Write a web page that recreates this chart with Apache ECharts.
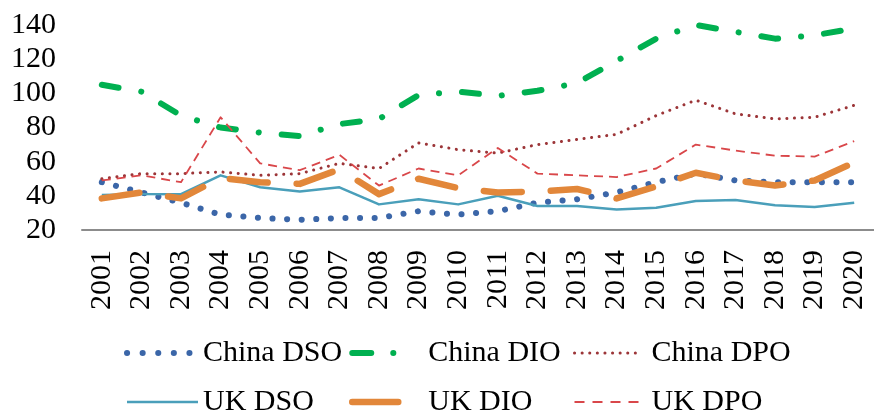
<!DOCTYPE html>
<html>
<head>
<meta charset="utf-8">
<script src="https://cdn.jsdelivr.net/npm/echarts@6/dist/echarts.min.js"></script>
<style>
html,body{margin:0;padding:0;background:#fff;}
#c{width:874px;height:414px;}
</style>
</head>
<body>
<div id="c"></div>
<script>
var years = ['2001','2002','2003','2004','2005','2006','2007','2008','2009','2010','2011','2012','2013','2014','2015','2016','2017','2018','2019','2020'];
var yTicks = {min: 20, max: 140, interval: 20};
var chinaDSO = [48, 42, 36, 29, 27, 26, 27, 27, 31, 29, 31, 36, 38, 42, 48, 53, 49, 48, 48, 48];
var chinaDIO = [105, 101, 87, 80, 77, 75, 82, 85, 99, 101, 98.5, 101.5, 106, 119, 132, 140, 136, 132, 134, 138];
var chinaDPO = [50, 53, 53, 54, 52, 53, 59, 56, 71, 67, 65, 70, 73, 76, 87, 96, 88, 85, 86, 93];
var ukDSO = [40.5, 41, 41, 52, 45, 42.5, 45, 35, 38, 35, 40, 34, 34, 32, 33, 37, 37.5, 34.5, 33.5, 36];
var ukDIO = [38.5, 42, 38.5, 50.5, 48, 47, 55.5, 41, 50, 44.5, 42, 42.5, 44, 38.5, 45.5, 53.5, 49, 46, 49, 59.5];
var ukDPO = [49, 52, 48, 86, 59, 55, 64, 46, 56, 52, 68, 53, 52, 51, 56, 70, 66.5, 63.5, 63, 72];

var FONT = "'Liberation Serif', 'Times New Roman', serif";

var styles = {
  'China DSO': {color: '#3b66a8', width: 6, type: [0.1, 14.5], cap: 'round', legType: [0.1, 15.5]},
  'China DIO': {color: '#00b050', width: 6, type: [17, 23, 0.1, 23], cap: 'round', legType: [19, 22, 0.1, 40]},
  'China DPO': {color: '#9c3538', width: 3, type: [0.1, 7.5], cap: 'round', legType: [0.1, 7.5]},
  'UK DSO':    {color: '#4a9fba', width: 2.5, type: 'solid', cap: 'butt', legType: 'solid'},
  'UK DIO':    {color: '#e2873a', width: 6.5, type: [38, 29], cap: 'round', legType: [46, 100]},
  'UK DPO':    {color: '#d9474a', width: 1.8, type: [9, 6], cap: 'butt', legType: [10, 8]}
};

function mkSeries(name, data) {
  var s = styles[name];
  return {
    name: name, type: 'line', data: data, showSymbol: false, symbol: 'none',
    lineStyle: {color: s.color, width: s.width, type: s.type, cap: s.cap, join: 'round'},
    itemStyle: {color: s.color},
    emphasis: {disabled: true}
  };
}
function legItem(name) {
  var s = styles[name];
  return {name: name,
    lineStyle: {color: s.color, width: s.width, type: s.legType, cap: s.cap},
    itemStyle: {color: s.color, opacity: 0, borderWidth: 0}};
}
function mkLegend(left, iconW, textPad, names) {
  return {
    orient: 'vertical', left: left, top: 338, height: 200, itemWidth: iconW, itemHeight: 30, itemGap: 19,
    padding: 0, selectedMode: false,
    textStyle: {fontFamily: FONT, fontSize: 30, color: '#000', lineHeight: 30, padding: [0, 0, 0, textPad]},
    data: names.map(legItem)
  };
}

var chart = echarts.init(document.getElementById('c'), null, {renderer: 'canvas'});
chart.setOption({
  animation: false,
  backgroundColor: '#fff',
  grid: {left: 82, right: -9, top: 25, bottom: 184, containLabel: false},
  legend: [
    mkLegend(124, 71, 0, ['China DSO', 'UK DSO']),
    mkLegend(349, 50, 21, ['China DIO', 'UK DIO']),
    mkLegend(573, 64, 8, ['China DPO', 'UK DPO'])
  ],
  xAxis: {
    type: 'category', data: years, boundaryGap: true,
    axisLine: {show: true, lineStyle: {color: '#8c8c8c', width: 2}},
    axisTick: {show: false},
    axisLabel: {interval: 0, rotate: 90, margin: 20, padding: [4, 0, 0, 0], fontFamily: FONT, fontSize: 30, color: '#000'},
    splitLine: {show: false}
  },
  yAxis: {
    type: 'value', min: yTicks.min, max: yTicks.max, interval: yTicks.interval,
    axisLine: {show: false}, axisTick: {show: false}, splitLine: {show: false},
    axisLabel: {margin: 26, fontFamily: FONT, fontSize: 30, color: '#000'}
  },
  series: [
    mkSeries('China DSO', chinaDSO),
    mkSeries('China DIO', chinaDIO),
    mkSeries('China DPO', chinaDPO),
    mkSeries('UK DSO', ukDSO),
    mkSeries('UK DIO', ukDIO),
    mkSeries('UK DPO', ukDPO)
  ]
});
</script>
</body>
</html>
